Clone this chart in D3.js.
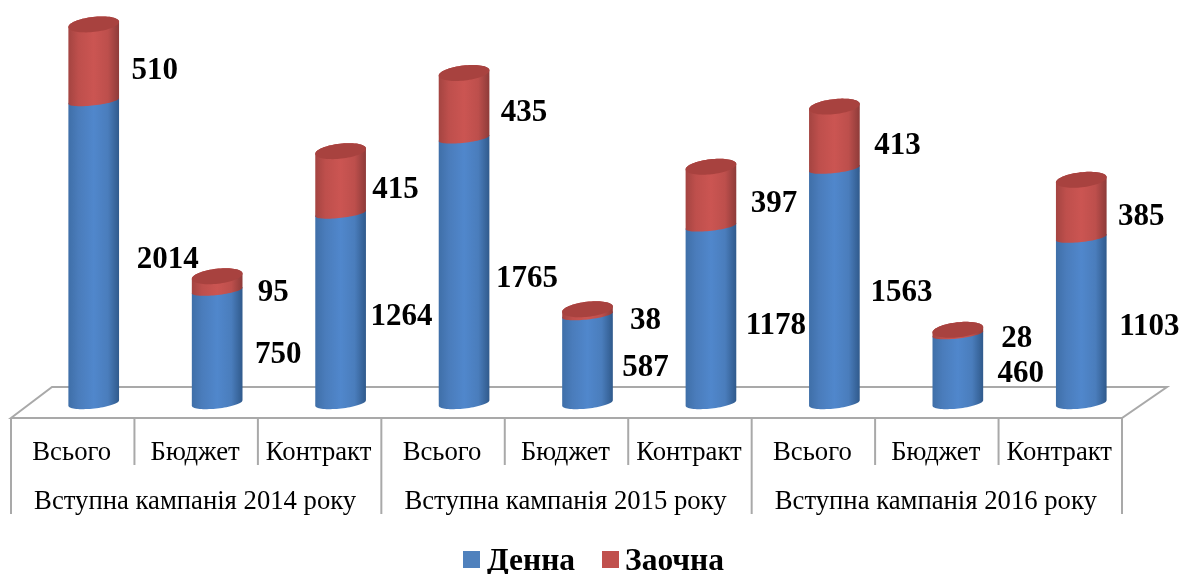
<!DOCTYPE html>
<html><head><meta charset="utf-8">
<script src="https://cdn.jsdelivr.net/npm/d3@7"></script>
<style>html,body{margin:0;padding:0;background:#fff}svg{display:block;filter:blur(.4px)}text{font-family:"Liberation Serif",serif;fill:#000}</style>
</head><body><svg id="c" width="1183" height="574"></svg>
<script>
const categories = ["Всього","Бюджет","Контракт","Всього","Бюджет","Контракт","Всього","Бюджет","Контракт"];
const groups = ["Вступна кампанія 2014 року","Вступна кампанія 2015 року","Вступна кампанія 2016 року"];
const denna = [2014,750,1264,1765,587,1178,1563,460,1103];
const zaochna = [510,95,415,435,38,397,413,28,385];
const seriesNames = ["Денна","Заочна"];
// hand placement of value labels relative to each segment
const dennaDx = [74,61,61,63,58,65,67,63,68], dennaDy = [6,6,6.6,6.2,6.7,8.5,5,2.6,4.4];
const zaochnaDx = [61,56,55,60,58,63,63,59,60], zaochnaDy = [5.7,7,4.7,4.4,5.9,5.4,5.4,4.2,6.2];

const svg = d3.select("#c");
const x = d3.scaleBand().domain(d3.range(9)).range([11,1122]);
const y = d3.scaleLinear().domain([0,2600]).range([403,13]);
const depthX = 21, rx = 25.5, ryBase = 5.5, ryMid = 4.5, ryTop = 7.5, tilt = -6.5*Math.PI/180;
const cx = i => x(i)+x.bandwidth()/2+depthX;

const defs = svg.append("defs");
function grad(id,stops){
  const g = defs.append("linearGradient").attr("id",id).attr("x1","0%").attr("x2","100%").attr("y1","0%").attr("y2","0%");
  stops.forEach(([o,c])=>g.append("stop").attr("offset",o).attr("stop-color",c));
}
grad("gb",[["0%","#3f6fa8"],["20%","#4a7cbb"],["50%","#5087cc"],["78%","#4a7dbc"],["100%","#305a8c"]]);
grad("gr",[["0%","#a44441"],["20%","#be4f4c"],["50%","#cb5552"],["78%","#bd4f4c"],["100%","#8e3b39"]]);

// floor and axis
const stroke="#a9a9a9";
const grid = svg.append("g").attr("stroke",stroke).attr("fill","none");
const yf=418,yb=387,yt=465,yo=514;
grid.append("path").attr("stroke-width",2).attr("d",`M${x.range()[0]},${yf}L${x.range()[0]+41},${yb}L${x.range()[1]+45},${yb}L${x.range()[1]},${yf}Z`);
d3.range(10).forEach(i=>{
  const px = i<9?x(i):x.range()[1];
  grid.append("line").attr("x1",px).attr("x2",px).attr("y1",yf).attr("y2",i%3==0?yo:yt).attr("stroke-width",2);
});

// cylinders: outline sampled from tilted ellipses
const line = d3.line();
const ell = (c,yc,ry,t)=>[c+rx*Math.cos(t)*Math.cos(tilt)-ry*Math.sin(t)*Math.sin(tilt),
                          yc+rx*Math.cos(t)*Math.sin(tilt)+ry*Math.sin(t)*Math.cos(tilt)];
const halfT = d3.range(0,37).map(k=>k*Math.PI/36);
function seg(g,c,y0,ry0,y1,ry1,fill){
  // front arc of the lower ellipse (right to left), then back along the upper one (left to right)
  const pts = halfT.map(t=>ell(c,y0,ry0,t)).concat(halfT.slice().reverse().map(t=>ell(c,y1,ry1,t)));
  g.append("path").attr("d",line(pts)+"Z").attr("fill",fill);
}
const bars = svg.selectAll("g.bar").data(denna).join("g").attr("class","bar");
bars.each(function(d,i){
  const g=d3.select(this), c=cx(i);
  const yA=y(d), yB=y(d+zaochna[i]);
  seg(g,c,y(0),ryBase,yA,-ryMid,"url(#gb)");
  seg(g,c,yA,ryMid,yB,-ryTop,"url(#gr)");
  g.append("path").attr("d",line(d3.range(0,72).map(k=>ell(c,yB,ryTop,k*Math.PI/36)))+"Z").attr("fill","#a8423f");
});

// value labels
const lab = svg.append("g").attr("font-weight","bold").attr("font-size",31).attr("text-anchor","middle");
denna.forEach((d,i)=>{
  lab.append("text").attr("x",cx(i)+dennaDx[i]).attr("y",(y(0)+y(d))/2+dennaDy[i]).attr("dy","0.34em").text(d);
  const z=zaochna[i];
  lab.append("text").attr("x",cx(i)+zaochnaDx[i]).attr("y",(y(d)+y(d+z))/2+zaochnaDy[i]).attr("dy","0.34em").text(z);
});

// category labels
const cat = svg.append("g").attr("font-size",26.7).attr("text-anchor","middle");
categories.forEach((t,i)=>cat.append("text").attr("x",x(i)+x.bandwidth()/2-1).attr("y",451).attr("dy","0.34em").text(t));
groups.forEach((t,i)=>cat.append("text").attr("x",x(i*3)+x.bandwidth()*1.5-1).attr("y",500).attr("dy","0.34em").text(t));

// legend
const leg = svg.append("g").attr("font-weight","bold").attr("font-size",31.5);
const lx=[463,602], colors=["#4f81bd","#c0504d"];
seriesNames.forEach((t,i)=>{
  leg.append("rect").attr("x",lx[i]).attr("y",551).attr("width",17).attr("height",17).attr("fill",colors[i]);
  leg.append("text").attr("x",i?625:487).attr("y",570).text(t);
});
</script></body></html>
